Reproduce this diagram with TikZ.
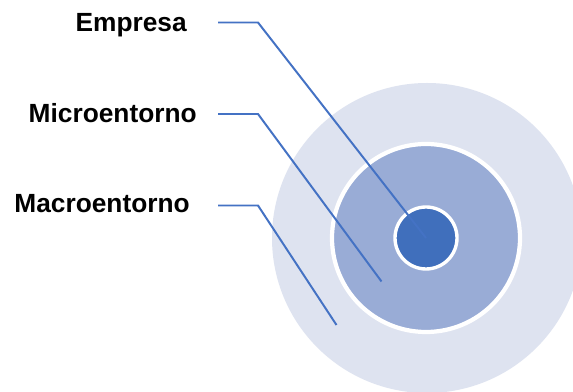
\documentclass[tikz,border=0pt]{standalone}
\usepackage{fontspec}
\setmainfont{Liberation Sans}
\usetikzlibrary{positioning}
\definecolor{macrofill}{RGB}{222,227,240}
\definecolor{microfill}{RGB}{153,172,214}
\definecolor{empfill}{RGB}{64,111,188}
\definecolor{linkblue}{RGB}{68,114,196}

\begin{document}
\begin{tikzpicture}[
  x=0.025cm, y=-0.025cm,
  ring/.style={circle, inner sep=0pt, draw=white},
  lbl/.style={font=\fontsize{18.7}{22}\selectfont\bfseries, inner sep=0pt, anchor=base east},
  link/.style={draw=linkblue, line width=1.4pt},
]
\clip (0,0) rectangle (573,392);
\fill[white] (0,0) rectangle (573,392);

% circles
\node[ring, fill=macrofill, draw=none, minimum size=310*0.025cm] (macro) at (427,238) {};
\node[ring, fill=microfill, line width=3pt, minimum size=188*0.025cm] (micro) at (426,238) {};
\node[ring, fill=empfill, line width=2.4pt, minimum size=62*0.025cm] (emp) at (426,238) {};

% labels
\node[lbl] (lemp) at (187,32) {Empresa};
\node[lbl] (lmicro) at (197,122.5) {Microentorno};
\node[lbl] (lmacro) at (190,213) {Macroentorno};

\coordinate (pmicro) at (381.5,281.5);
\coordinate (pmacro) at (336.5,325);

\draw[link] (lemp.base east) ++(31,-9.5) -- ++(40,0) -- (emp.center);
\draw[link] (lmicro.base east) ++(21,-8.5) -- ++(40,0) -- (pmicro);
\draw[link] (lmacro.base east) ++(28,-7.5) -- ++(40,0) -- (pmacro);
\end{tikzpicture}
\end{document}
